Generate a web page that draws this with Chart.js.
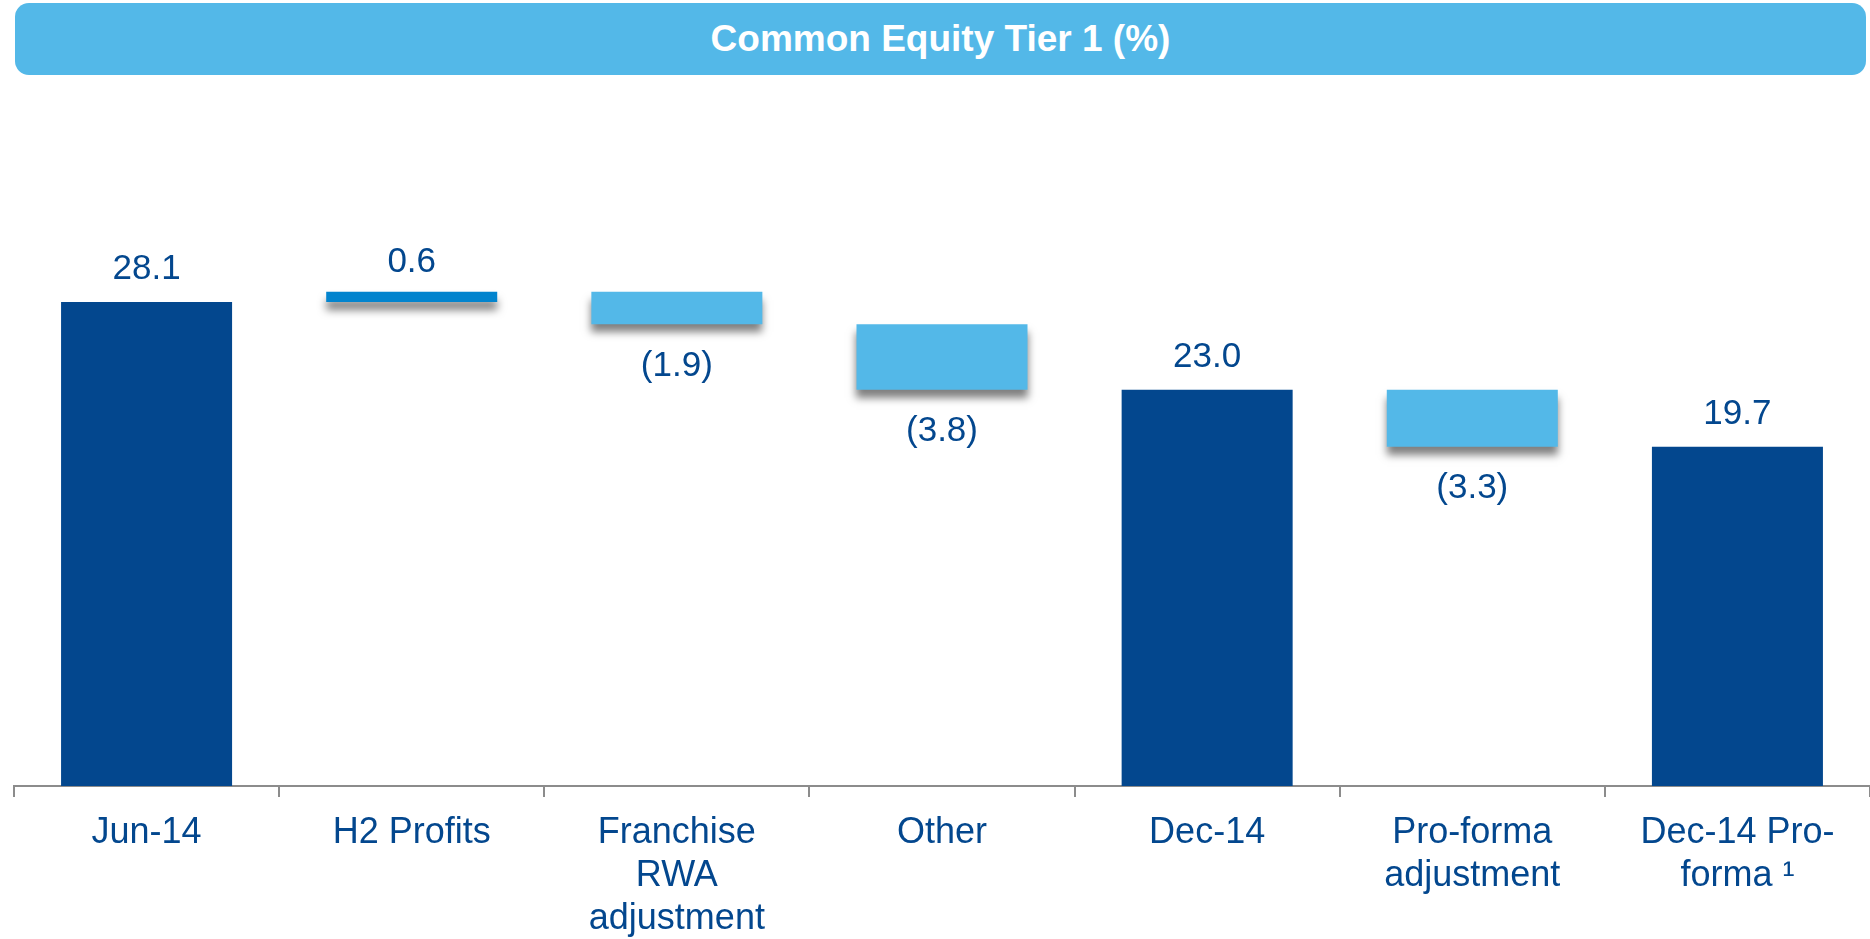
<!DOCTYPE html>
<html>
<head>
<meta charset="utf-8">
<script src="https://cdn.jsdelivr.net/npm/chart.js@4"></script>
<style>
  body { margin: 0; background: #fff; }
  #wrap { position: relative; width: 1870px; height: 939px; }
  #title {
    position: absolute; left: 15px; top: 3px; width: 1851px; height: 72px;
    background: #53b8e8; border-radius: 14px; color: #fff;
    font: bold 37px "Liberation Sans", Arial, sans-serif;
    display: flex; align-items: center; justify-content: center; z-index: 2;
  }
  canvas { position: absolute; left: 0; top: 0; }
</style>
</head>
<body>
<div id="wrap">
  <div id="title">Common Equity Tier 1 (%)</div>
  <canvas id="myChart" width="1870" height="939"></canvas>
</div>
<script>
// Chart data

var categories = [
    ['Jun-14'],
    ['H2 Profits'],
    ['Franchise', 'RWA', 'adjustment'],
    ['Other'],
    ['Dec-14'],
    ['Pro-forma', 'adjustment'],
    ['Dec-14 Pro-', 'forma \u00b9'],
];

// totals are full bars, movements float off the running total
var totals = [28.1, null, null, null, 23.0, null, 19.7];
var movements = [null, 0.6, -1.9, -3.8, null, -3.3, null];

var darkBlue = '#03478e';
var midBlue = '#0284ce';
var lightBlue = '#53b8e8';

// Build floating [from, to] ranges for the movement bars
var running = 0;
var totalBars = [];
var moveBars = [];
var moveColors = [];
for (var i = 0; i < categories.length; i++) {
    if (totals[i] !== null) {
        running = totals[i];
        totalBars.push([0, totals[i]]);
        moveBars.push(null);
        moveColors.push(lightBlue);
    } else {
        var next = Math.round((running + movements[i]) * 10) / 10;
        moveBars.push([running, next]);
        moveColors.push(movements[i] > 0 ? midBlue : lightBlue);
        totalBars.push(null);
        running = next;
    }
}

var fontFamily = '"Liberation Sans", Arial, sans-serif';

// drop shadow under the floating bars only
var shadowPlugin = {
    id: 'shadow',
    beforeDatasetDraw: function(chart, args) {
        if (args.index !== 1) return;
        var c = chart.ctx;
        c.save();
        c.shadowColor = 'rgba(0,0,0,0.5)';
        c.shadowBlur = 8;
        c.shadowOffsetY = 8;
    },
    afterDatasetDraw: function(chart, args) {
        if (args.index !== 1) return;
        chart.ctx.restore();
    }
};

var valueLabels = {
    id: 'valueLabels',
    afterDatasetsDraw: function(chart) {
        var c = chart.ctx;
        c.save();
        c.fillStyle = darkBlue;
        c.font = '35px ' + fontFamily;
        c.textAlign = 'center';
        chart.getDatasetMeta(0).data.forEach(function(bar, i) {
            if (totals[i] === null) return;
            c.textBaseline = 'alphabetic';
            c.fillText(totals[i].toFixed(1), bar.x, bar.y - 23);
        });
        chart.getDatasetMeta(1).data.forEach(function(bar, i) {
            var v = movements[i];
            if (v === null) return;
            var top = Math.min(bar.y, bar.base);
            var bottom = Math.max(bar.y, bar.base);
            if (v > 0) {
                c.textBaseline = 'alphabetic';
                c.fillText(v.toFixed(1), bar.x, top - 20);
            } else {
                c.textBaseline = 'middle';
                c.fillText('(' + Math.abs(v).toFixed(1) + ')', bar.x, bottom + 42);
            }
        });
        c.restore();
    }
};

var ctx = document.getElementById('myChart').getContext('2d');

var myChart = new Chart(ctx, {
    type: 'bar',
    data: {
        labels: categories,
        datasets: [
            {
                label: 'Total',
                backgroundColor: darkBlue,
                data: totalBars,
                grouped: false,
            },
            {
                label: 'Movement',
                backgroundColor: moveColors,
                data: moveBars,
                grouped: false,
            },
        ]
    },
    options: {
        responsive: false,
        animation: false,
        devicePixelRatio: 1,
        categoryPercentage: 1,
        barPercentage: 0.645,
        layout: { padding: { top: 97, left: 14, right: 0, bottom: 0 } },
        plugins: {
            legend: { display: false },
            tooltip: { enabled: false },
        },
        scales: {
            x: {
                grid: {
                    drawOnChartArea: false,
                    tickLength: 11,
                    color: '#8c8c8c',
                    lineWidth: 2,
                },
                border: { color: '#8c8c8c', width: 2 },
                ticks: {
                    color: darkBlue,
                    autoSkip: false,
                    maxRotation: 0,
                    padding: 14,
                    font: { family: fontFamily, size: 36, lineHeight: 1.2 },
                },
                afterFit: function(scale) { scale.height = 153; },
            },
            y: {
                display: false,
                min: 0,
                max: 40,
            },
        },
    },
    plugins: [shadowPlugin, valueLabels],
});
</script>
</body>
</html>
